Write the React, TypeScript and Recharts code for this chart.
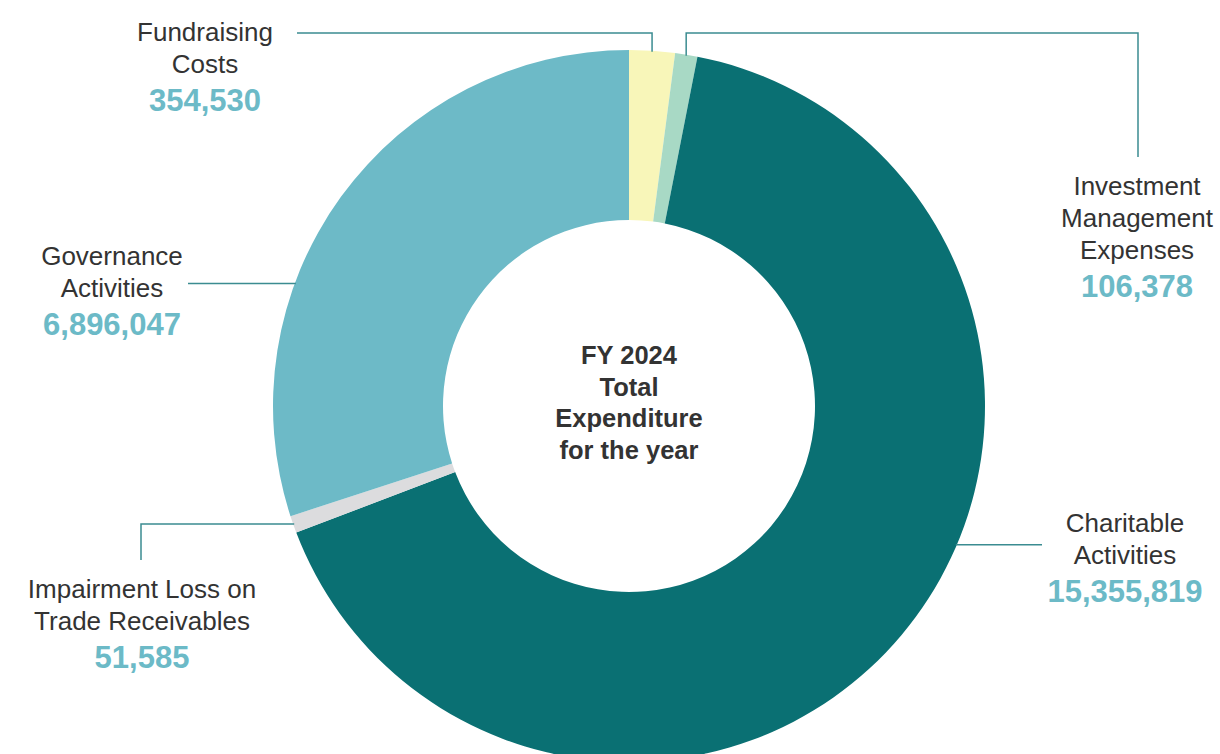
import { PieChart, Pie, Cell } from 'recharts';

// FY 2024 expenditure breakdown
const categories = [
  'Fundraising Costs',
  'Investment Management Expenses',
  'Charitable Activities',
  'Impairment Loss on Trade Receivables',
  'Governance Activities',
];
const labelLines = [
  ['Fundraising', 'Costs'],
  ['Investment', 'Management', 'Expenses'],
  ['Charitable', 'Activities'],
  ['Impairment Loss on', 'Trade Receivables'],
  ['Governance', 'Activities'],
];
const expenditure = [354530, 106378, 15355819, 51585, 6896047];
const sliceColors = ['#f8f6b9', '#a8d9c5', '#0a7073', '#dcdcde', '#6dbac7'];
const centerLines = ['FY 2024', 'Total', 'Expenditure', 'for the year'];

const data = categories.map((name, i) => ({
  name,
  value: expenditure[i],
  lines: labelLines[i],
}));

const LABEL_FONT = '"Liberation Sans", Arial, Helvetica, sans-serif';
const RADIAN = Math.PI / 180;

// leader routing, offsets from pie centre. anchor = null -> slice midAngle
type Step = ['h' | 'v', number];
const leaderLayout: { anchor: number | null; steps: Step[]; textX: number; textY: number }[] = [
  { anchor: null, steps: [['v', -373], ['h', -332]], textX: -424, textY: -365 },
  { anchor: null, steps: [['v', -373], ['h', 509], ['v', -249]], textX: 508, textY: -211 },
  { anchor: -23, steps: [['h', 413]], textX: 496, textY: 126 },
  { anchor: null, steps: [['h', -488], ['v', 154]], textX: -487, textY: 192 },
  { anchor: 159.8, steps: [['h', -441]], textX: -517, textY: -141 },
];

function renderLabel(props: any) {
  const { cx, cy, outerRadius, midAngle, index, payload } = props;
  const cfg = leaderLayout[index];
  const ang = (cfg.anchor ?? midAngle) * RADIAN;
  let x = cx + (outerRadius - 1) * Math.cos(ang);
  let y = cy - (outerRadius - 1) * Math.sin(ang);
  let d = `M${x},${y}`;
  cfg.steps.forEach(([dir, v]) => {
    if (dir === 'h') x = cx + v;
    else y = cy + v;
    d += ` L${x},${y}`;
  });
  const lines: string[] = payload?.lines ?? labelLines[index];
  const tx = cx + cfg.textX;
  const ty = cy + cfg.textY;
  return (
    <g key={`lbl-${index}`}>
      <path d={d} fill="none" stroke="#3b8c91" strokeWidth={1.5} />
      {lines.map((t, i) => (
        <text
          key={i}
          x={tx}
          y={ty + i * 32}
          textAnchor="middle"
          fontSize={26}
          fill="#333333"
          fontFamily={LABEL_FONT}
        >
          {t}
        </text>
      ))}
      <text
        x={tx}
        y={ty + (lines.length - 1) * 32 + 38}
        textAnchor="middle"
        fontSize={31}
        fontWeight="bold"
        fill="#6cbac7"
        fontFamily={LABEL_FONT}
      >
        {expenditure[index].toLocaleString('en-US')}
      </text>
      {/* centre caption drawn once, with the first slice */}
      {index === 0 &&
        centerLines.map((t, i) => (
          <text
            key={`c${i}`}
            x={cx}
            y={cy - 42 + i * 31.5}
            textAnchor="middle"
            fontSize={25.5}
            fontWeight="bold"
            fill="#333333"
            fontFamily={LABEL_FONT}
          >
            {t}
          </text>
        ))}
    </g>
  );
}

export default function App() {
  return (
    <div style={{ position: 'absolute', left: 0, top: 0, background: '#fff' }}>
      <PieChart width={1220} height={754} margin={{ top: 0, right: 0, bottom: 0, left: 0 }}>
        <Pie
          data={data}
          dataKey="value"
          nameKey="name"
          cx={629}
          cy={406}
          innerRadius={186}
          outerRadius={356}
          startAngle={90}
          endAngle={-270}
          minAngle={2}
          stroke="none"
          label={renderLabel}
          labelLine={false}
          isAnimationActive={false}
        >
          {data.map((d, i) => (
            <Cell key={d.name} fill={sliceColors[i]} />
          ))}
        </Pie>
      </PieChart>
    </div>
  );
}
